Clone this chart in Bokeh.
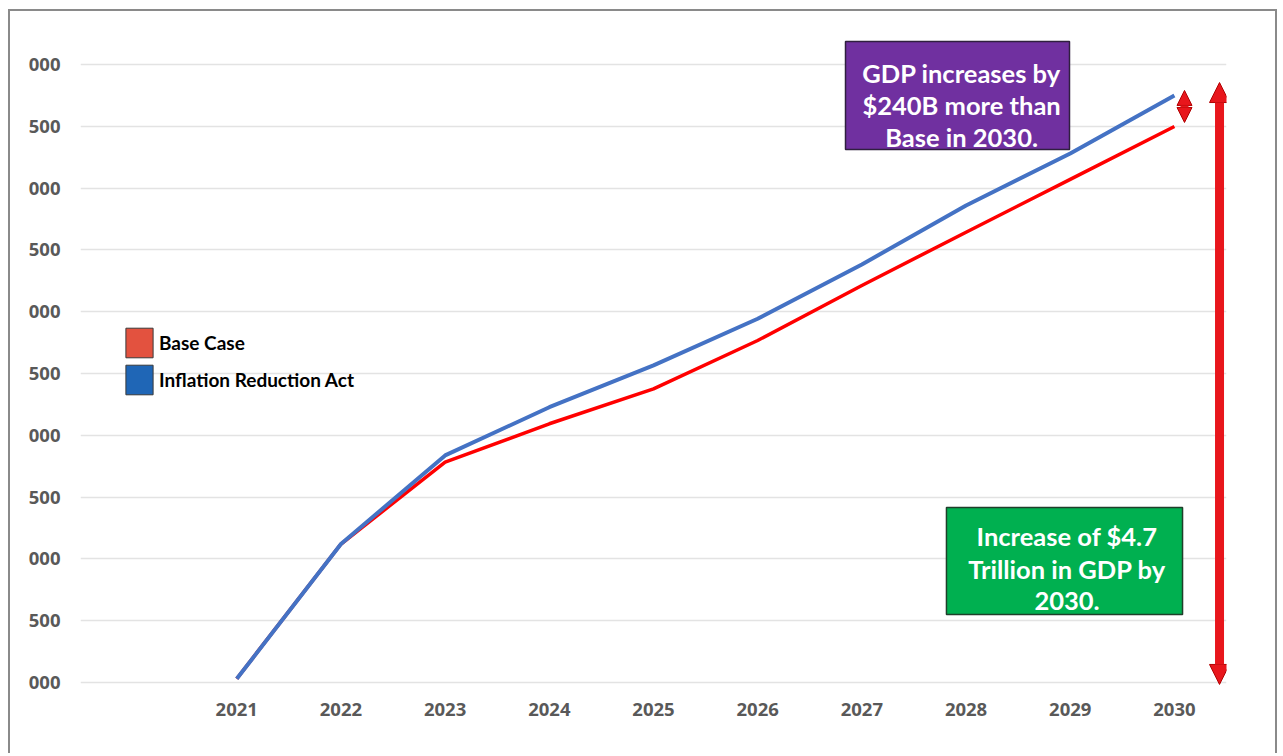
from bokeh.plotting import figure
from bokeh.models import (Range1d, FixedTicker, Legend, LegendItem, Label,
                          BoxAnnotation, Arrow, NormalHead)
from bokeh.embed import file_html
from bokeh.resources import INLINE

# ---------------- data ----------------
years = [2021, 2022, 2023, 2024, 2025, 2026, 2027, 2028, 2029, 2030]
base_case = [23030, 24120, 24782, 25093, 25376, 25767, 26212, 26643, 27070, 27498]
inflation_reduction_act = [23030, 24120, 24837, 25227, 25565, 25943, 26382, 26859, 27280, 27749]

x_tick_labels = ["2021", "2022", "2023", "2024", "2025", "2026", "2027", "2028", "2029", "2030"]
y_ticks = [23000, 23500, 24000, 24500, 25000, 25500, 26000, 26500, 27000, 27500, 28000]
y_tick_labels = ["000", "500", "000", "500", "000", "500", "000", "500", "000", "500", "000"]

series_names = ["Base Case", "Inflation Reduction Act"]

box1_lines = ["GDP increases by", "$240B more than", "Base in 2030."]
box2_lines = ["Increase of $4.7", "Trillion in GDP by", "2030."]

# ---------------- figure ----------------
p = figure(width=1269, height=744, output_backend="svg", toolbar_location=None,
           x_range=Range1d(2019.5, 2030.5), y_range=Range1d(22935, 28275),
           min_border_left=70, min_border_right=53, min_border_top=19, min_border_bottom=65)
# outer chart border (open at the bottom, as in the cropped original)
p.styles = {"margin-left": "8px", "margin-top": "9px",
            "border-left": "2px solid #8a8a8a", "border-top": "2px solid #8a8a8a",
            "border-right": "2px solid #8a8a8a"}
p.outline_line_color = None
p.background_fill_color = "white"
p.border_fill_color = "white"

# axes
p.xaxis.ticker = FixedTicker(ticks=years)
p.xaxis.major_label_overrides = {y: s for y, s in zip(years, x_tick_labels)}
p.yaxis.ticker = FixedTicker(ticks=y_ticks)
p.yaxis.major_label_overrides = {t: s for t, s in zip(y_ticks, y_tick_labels)}
for ax in (p.xaxis, p.yaxis):
    ax.axis_line_color = None
    ax.major_tick_line_color = None
    ax.minor_tick_line_color = None
    ax.major_label_text_font = "Open Sans"
    ax.major_label_text_font_style = "bold"
    ax.major_label_text_font_size = "18.5px"
    ax.major_label_text_color = "#595959"
p.xaxis.major_label_standoff = 6
p.yaxis.major_label_standoff = 14
p.xgrid.grid_line_color = None
p.ygrid.grid_line_color = "#e3e3e3"
p.ygrid.grid_line_width = 1.5

# lines
p.line(years, base_case, line_color="#FF0000", line_width=3.5)
p.line(years, inflation_reduction_act, line_color="#4472C4", line_width=4)

# legend (square swatches; renderers hold no visible data)
nan = float("nan")
sw_base = p.quad(left=[nan], right=[nan], top=[nan], bottom=[nan],
                 fill_color="#E3523F", line_color="#3a3a3a", line_width=1)
sw_ira = p.quad(left=[nan], right=[nan], top=[nan], bottom=[nan],
                fill_color="#1F66B6", line_color="#3a3a3a", line_width=1)
legend = Legend(items=[LegendItem(label=series_names[0], renderers=[sw_base]),
                       LegendItem(label=series_names[1], renderers=[sw_ira])],
                location=(42, 292), orientation="vertical",
                glyph_width=34, glyph_height=37, spacing=0, padding=0, margin=0,
                label_standoff=3, label_text_font="Lato", label_text_font_style="bold",
                label_text_font_size="19px", label_text_color="#000000",
                border_line_color=None, background_fill_alpha=0)
p.add_layout(legend)

# annotation boxes
p.add_layout(BoxAnnotation(left=2026.843, right=2028.993, top=28186, bottom=27312,
                           fill_color="#7030A0", fill_alpha=1.0,
                           line_color="#2f1f3f", line_width=1.5, line_alpha=1.0))
p.add_layout(BoxAnnotation(left=2027.812, right=2030.078, top=24416, bottom=23550,
                           fill_color="#00B050", fill_alpha=1.0,
                           line_color="#1f3f2a", line_width=1.5, line_alpha=1.0))

for txt, yb in zip(box1_lines, [27930, 27676, 27417]):
    p.add_layout(Label(x=2027.957, y=yb, text=txt, text_align="center", text_baseline="alphabetic",
                       text_font="Lato", text_font_style="bold", text_font_size="25.5px",
                       text_color="white"))
for txt, yb in zip(box2_lines, [24189, 23922, 23663]):
    p.add_layout(Label(x=2028.969, y=yb, text=txt, text_align="center", text_baseline="alphabetic",
                       text_font="Lato", text_font_style="bold", text_font_size="25.5px",
                       text_color="white"))

# arrows
red = "#E8161C"
dark = "#B00000"
p.add_layout(Arrow(x_start=2030.433, y_start=22984, x_end=2030.433, y_end=27854,
                   line_color=red, line_width=9,
                   start=NormalHead(size=20, fill_color=red, line_color=dark, line_width=1),
                   end=NormalHead(size=20, fill_color=red, line_color=dark, line_width=1)))
p.add_layout(Arrow(x_start=2030.097, y_start=27531, x_end=2030.097, y_end=27790,
                   line_color=red, line_width=8,
                   start=NormalHead(size=15, fill_color=red, line_color=dark, line_width=1),
                   end=NormalHead(size=15, fill_color=red, line_color=dark, line_width=1)))

open("out.html", "w").write(file_html(p, INLINE))
